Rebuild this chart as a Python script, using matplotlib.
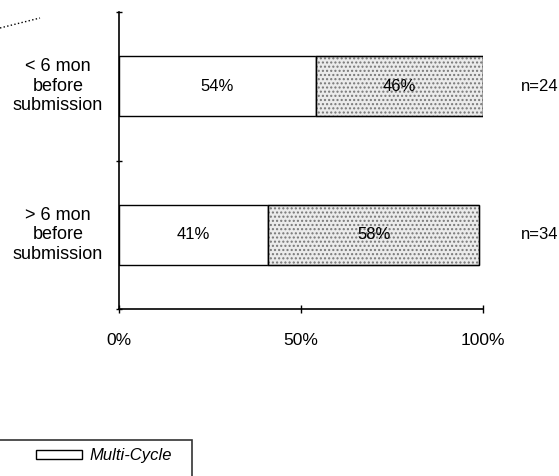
import matplotlib
matplotlib.use("Agg")
import matplotlib.pyplot as plt
from matplotlib.patches import Patch, Rectangle
from matplotlib.lines import Line2D
from matplotlib.legend_handler import HandlerPatch

plt.rcParams['font.family'] = ['Liberation Sans', 'DejaVu Sans']

categories = ["< 6 mon\nbefore\nsubmission", "> 6 mon\nbefore\nsubmission"]
multi_cycle = [54, 41]
single_cycle = [46, 58]
n_labels = ["n=24", "n=34"]
x_ticks = [0, 50, 100]
x_tick_labels = ["0%", "50%", "100%"]
legend_labels = ["Multi-Cycle", "Single-Cycle"]

fig = plt.figure(figsize=(5.59, 4.76), dpi=100)
ax = fig.add_axes([119/559, 1-309/476, 364/559, 297/476])

ypos = list(range(len(categories)))
h = 0.405
stip_face = "#ebebeb"
stip_hatch = "#777777"
ax.barh(ypos, multi_cycle, height=h, color="white", edgecolor="black", linewidth=1.0)
ax.barh(ypos, single_cycle, left=multi_cycle, height=h, color=stip_face,
        edgecolor=stip_hatch, hatch="....", linewidth=1.0)
ax.barh(ypos, single_cycle, left=multi_cycle, height=h, color="none",
        edgecolor="black", linewidth=1.0)

for i in ypos:
    ax.text(multi_cycle[i] / 2, i, f"{multi_cycle[i]}%", ha="center", va="center", fontsize=12)
    ax.text(multi_cycle[i] + single_cycle[i] / 2, i, f"{single_cycle[i]}%",
            ha="center", va="center", fontsize=12)
    ax.text(110.5, i, n_labels[i], ha="left", va="center", fontsize=12, clip_on=False)
    ax.text(-0.168, i, categories[i], transform=ax.get_yaxis_transform(), ha="center",
            va="center", fontsize=13, linespacing=1.2)

ax.set_xlim(0, 100)
ax.set_ylim(1.5, -0.5)
ax.set_xticks(x_ticks)
ax.set_xticklabels(x_tick_labels, fontsize=12.5)
ax.set_yticks([-0.5, 0.5, 1.5])
ax.set_yticklabels([])
ax.tick_params(axis="y", direction="inout", length=5, width=1)
ax.tick_params(axis="x", direction="inout", length=6, width=1, pad=14)
for s in ["top", "right"]:
    ax.spines[s].set_visible(False)
for s in ["left", "bottom"]:
    ax.spines[s].set_linewidth(1.2)


def right_patch(legend, orig_handle, xdescent, ydescent, width, height, fontsize):
    w = 46 * 72 / 100  # handle width in points
    return Rectangle((width - xdescent - w, -ydescent), w, height)


handles = [Patch(facecolor="white", edgecolor="black", linewidth=1.0),
           Patch(facecolor=stip_face, edgecolor=stip_hatch, hatch="....", linewidth=1.0)]
leg = fig.legend(handles, legend_labels, loc="upper left",
                 bbox_to_anchor=(-10/559, 1-440/476), frameon=True, fancybox=False,
                 edgecolor="black", prop={"style": "italic", "size": 12},
                 handlelength=5.0, handleheight=0.5, borderpad=0.5, labelspacing=1.8,
                 handletextpad=0.48, borderaxespad=0,
                 handler_map={Patch: HandlerPatch(patch_func=right_patch)})
leg.get_frame().set_linewidth(1.2)
# the second legend entry lies below the cropped edge of the original; keep its space only
leg.get_texts()[1].set_visible(False)
leg.legend_handles[1].set_visible(False)

fig.add_artist(Line2D([0, 40/559], [1-28/476, 1-18/476], color="black", linestyle=":",
                      linewidth=1.0, transform=fig.transFigure))

fig.savefig("out.png", dpi=100)
